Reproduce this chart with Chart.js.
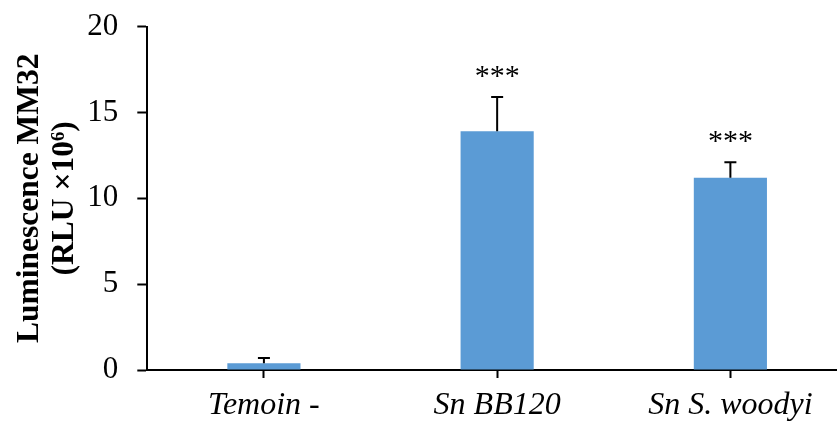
<!DOCTYPE html>
<html>
<head>
<meta charset="utf-8">
<script src="https://cdn.jsdelivr.net/npm/chart.js@4/dist/chart.umd.min.js"></script>
<style>
  html, body { margin: 0; padding: 0; background: #fff; overflow: hidden; }
  #box { width: 847px; height: 445px; margin-top: -11px; }
</style>
</head>
<body>
<div id="box"><canvas id="grafico"></canvas></div>
<script>
var categorias = ["Temoin -", "Sn BB120", "Sn S. woodyi"];
var valores = [0.39, 13.9, 11.2];
var erros = [0.31, 2.0, 0.9];
var marcas = ["", "***", "***"];
var ticksY = [0, 5, 10, 15, 20];

var fonte = "'Liberation Serif', 'Times New Roman', serif";

// barras de erro (so para cima) e asteriscos
var plugErros = {
    id: "erros",
    afterDatasetsDraw: function(chart) {
        var ctx = chart.ctx;
        var xs = chart.scales.x;
        var ys = chart.scales.y;
        ctx.save();
        ctx.strokeStyle = "#000";
        ctx.lineWidth = 2;
        for (var i = 0; i < valores.length; i++) {
            var x = xs.getPixelForValue(i);
            var y0 = ys.getPixelForValue(valores[i]);
            var y1 = ys.getPixelForValue(valores[i] + erros[i]);
            ctx.beginPath();
            ctx.moveTo(x, y0);
            ctx.lineTo(x, y1);
            ctx.moveTo(x - 6, y1);
            ctx.lineTo(x + 6, y1);
            ctx.stroke();
            if (marcas[i]) {
                ctx.fillStyle = "#000";
                ctx.font = "30px " + fonte;
                ctx.textAlign = "center";
                ctx.textBaseline = "middle";
                ctx.fillText(marcas[i], x, y1 - 20);
            }
        }
        ctx.restore();
    }
};

var ctx = document.getElementById("grafico");
var grafico = new Chart(ctx, {
    type: "bar",
    data: {
        labels: categorias,
        datasets: [{
            data: valores,
            backgroundColor: "#5B9BD5",
            categoryPercentage: 1,
            barPercentage: 0.3136
        }]
    },
    options: {
        responsive: true,
        maintainAspectRatio: false,
        animation: false,
        layout: { padding: { top: 4, right: 0, left: 6, bottom: 0 } },
        plugins: {
            legend: { display: false },
            tooltip: { enabled: false }
        },
        scales: {
            x: {
                grid: {
                    offset: false,
                    drawOnChartArea: false,
                    tickLength: 8,
                    tickColor: "#000",
                    tickWidth: 2
                },
                border: { color: "#000", width: 2 },
                ticks: {
                    color: "#000",
                    padding: 12,
                    font: { family: fonte, size: 32, style: "italic", lineHeight: 1 }
                }
            },
            y: {
                min: 0,
                max: 20,
                afterBuildTicks: function(axis) {
                    axis.ticks = ticksY.map(function(v) { return { value: v }; });
                },
                grid: {
                    drawOnChartArea: false,
                    tickLength: 10,
                    tickColor: "#000",
                    tickWidth: 2
                },
                border: { color: "#000", width: 2 },
                ticks: {
                    color: "#000",
                    padding: 19,
                    font: { family: fonte, size: 31 }
                },
                title: {
                    display: true,
                    text: ["Luminescence MM32", "(RLU \u00d710\u2076)"],
                    color: "#000",
                    padding: { top: 7, bottom: -14 },
                    font: { family: fonte, size: 31.5, weight: "bold", lineHeight: 1.1 }
                }
            }
        }
    },
    plugins: [plugErros]
});
</script>
</body>
</html>
